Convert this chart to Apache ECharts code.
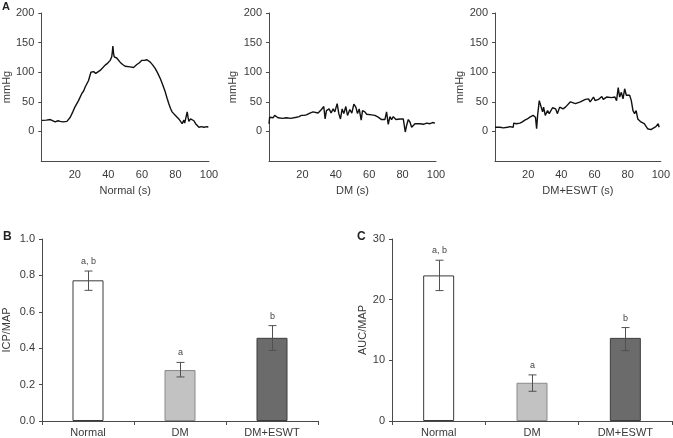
<!DOCTYPE html>
<html><head><meta charset="utf-8">
<script src="https://cdn.jsdelivr.net/npm/echarts@6/dist/echarts.min.js"></script>
<style>html,body{margin:0;padding:0;background:#fff}#c{width:673px;height:438px}</style>
</head><body><div id="c"></div>
<script>
// ---- Panel A traces: [time (s), pressure (mmHg)] ----
const normalTrace = [[0.4,18.6],[3,19],[5.4,20],[5.8,22],[6.5,19],[8.3,16],[10,18],[11.3,17],[13,16],[15.3,17],[17.3,24],[18.8,33],[20.2,42],[21,41],[22.2,52],[24.2,64],[25.2,68],[26.2,75],[27,74],[28.2,86],[29.6,100],[31.2,101],[32.5,98],[33.5,97],[35.1,103],[36.5,107],[38.1,112],[39.5,115],[41.1,120],[42,126],[42.4,135],[42.7,144],[43.1,132],[43.5,126],[45,124],[47,117],[48.5,113],[50,110],[53,109],[54,107],[55,108],[56,109],[57,113],[58.5,116],[60,120],[61.5,120],[63,121],[63.5,118],[65,117],[66.5,112],[68,106],[69.5,98],[71,89],[72.5,78],[74,66],[75,56],[76,47],[77,39],[78,33],[80,27],[81,25],[82,21],[83,18],[84,13],[84.5,16],[85,19],[85.5,14],[86,16],[87,33],[87.5,24],[88,17],[89,21],[90,24],[91,18],[92,13],[93,10],[94,7],[95.5,8],[97,7],[98,4.5],[98.8,8],[99.6,7]];
const dmTrace = [[0,13],[0.4,24],[1.4,25],[2.4,23],[3.4,27],[4.4,25],[5.4,23],[8,22],[10.4,23],[13,22],[16.4,24],[18,25],[19.4,27],[20,30],[21,27],[22.4,28],[24.5,31],[26.4,33],[27.5,30],[29.4,31],[30.5,34],[31.4,37],[32.8,42],[33.6,21],[34.4,35],[36,38],[37.2,31],[38.4,38],[39.4,33],[40.8,47],[41.8,30],[42.8,21],[43.8,38],[44.8,30],[46,42],[47,27],[48.4,37],[49.6,31],[50.8,46],[52,41],[53,30],[54,38],[55.2,19],[56,35],[57.4,33],[58.5,29],[59.4,31],[61.4,28],[62.5,30],[63.4,27],[65.4,24],[66.5,22],[67.4,20],[69.4,20],[70.4,33],[71.4,12],[72.4,25],[73.4,20],[74.4,25],[76,20],[77,22],[78.4,21],[80.4,21],[81,10],[81.6,-1],[82.4,10],[83.4,20],[84.4,16],[85.4,7],[86.5,10],[87.4,13],[90.4,13],[92.5,12],[94.4,14],[95.4,17],[96.4,13],[98,15],[99.4,14]];
const eswtTrace = [[0,7],[3,7],[5,6],[6,4.5],[7.5,7],[9,8],[11,7],[11.3,14],[13,13],[15,14],[16.5,16],[18,19],[19.5,21],[21,24],[23,27],[24.4,24],[25.1,4.5],[25.7,27],[26.7,52],[27.7,55],[28.7,33],[29.3,41],[30.3,27],[31.7,35],[32.7,30],[34.7,40],[36.6,38],[37.6,30],[39,41],[41,38],[42.5,41],[43.6,42],[45.5,50],[48.5,47],[51.5,50],[54.5,54],[55.4,51],[56.4,55],[57.4,50],[59.4,58],[60.4,52],[62.4,54],[64.4,59],[65.3,54],[67.3,58],[70.3,57],[72.3,58],[73.3,52],[74.3,74],[75.2,58],[76.2,66],[77.2,55],[78.2,72],[79.2,61],[81.2,61],[82.2,52],[83.2,35],[84.2,30],[85.1,35],[86.1,21],[88,16],[90,13],[92,4.5],[94,3],[95,6],[97,8],[98,7],[98.4,13],[99,7]];
const traceNames = ['Normal (s)','DM (s)','DM+ESWT (s)'];

// ---- Panels B & C ----
const groups = ['Normal','DM','DM+ESWT'];
const icpMean = [0.773, 0.280, 0.457];
const icpLow  = [0.718, 0.242, 0.388];
const icpHigh = [0.824, 0.322, 0.524];
const aucMean = [24.0, 6.3, 13.7];
const aucLow  = [21.5, 4.9, 11.6];
const aucHigh = [26.5, 7.6, 15.4];
const sigLabels = ['a, b','a','b'];
const yTicksA = [0,50,100,150,200];
const xTicksA = [20,40,60,80,100];

const barFill   = ['#ffffff','#c2c2c2','#6b6b6b'];
const barBorder = ['#3a3a3a','#8a8a8a','#3c3c3c'];

const FONT = 'Liberation Sans, Arial, sans-serif';
const TXT = '#3a3a3a';
const AX = '#4a4a4a';

const chart = echarts.init(document.getElementById('c'));

const gridsA = [
  {left:41, top:13, width:168, height:148},
  {left:269, top:13, width:167, height:148},
  {left:495, top:13, width:168, height:148}
];
const gridsBC = [
  {left:39, top:239, width:279, height:182},
  {left:392, top:239, width:280, height:182}
];
const grid = gridsA.concat(gridsBC);
const nameGapsA = [26, 31, 30];

const xAxis = [], yAxis = [], series = [];
[normalTrace, dmTrace, eswtTrace].forEach((tr, i) => {
  xAxis.push({type:'value', gridIndex:i, min:0, max:100, interval:20,
    name: traceNames[i], nameLocation:'middle', nameGap:24,
    nameTextStyle:{fontFamily:FONT, fontSize:11, color:TXT},
    axisLine:{show:true, onZero:false, lineStyle:{color:AX, width:1}}, axisTick:{show:false}, splitLine:{show:false},
    axisLabel:{fontFamily:FONT, fontSize:11, color:TXT, margin:8, customValues:xTicksA, formatter: v => v === 0 ? '' : String(v)}});
  yAxis.push({type:'value', gridIndex:i, min:-50, max:200, interval:50,
    name:'mmHg', nameLocation:'middle', nameGap:nameGapsA[i], nameRotate:90,
    nameTextStyle:{fontFamily:FONT, fontSize:11, color:TXT},
    axisLine:{show:true, onZero:false, lineStyle:{color:AX, width:1}},
    axisTick:{show:true, length:3, customValues:yTicksA, lineStyle:{color:AX}}, splitLine:{show:false},
    axisLabel:{fontFamily:FONT, fontSize:11, color:TXT, margin:7, customValues:yTicksA, formatter: v => yTicksA.indexOf(v) >= 0 ? String(v) : ''}});
  series.push({type:'line', xAxisIndex:i, yAxisIndex:i, data:tr, showSymbol:false, symbol:'none',
    lineStyle:{color:'#111', width:1.4}, animation:false});
});

function barPanel(idx, mean, low, high, yMax, yInt, yName, fmt, nameGap) {
  xAxis.push({type:'category', gridIndex:idx, data:groups,
    axisLine:{show:true, lineStyle:{color:AX}},
    axisTick:{show:true, length:4, lineStyle:{color:AX}},
    axisLabel:{fontFamily:FONT, fontSize:11, color:TXT, margin:6}});
  yAxis.push({type:'value', gridIndex:idx, min:0, max:yMax, interval:yInt,
    name:yName, nameLocation:'middle', nameGap:nameGap, nameRotate:90,
    nameTextStyle:{fontFamily:FONT, fontSize:11, color:TXT},
    axisLine:{show:true, lineStyle:{color:AX}},
    axisTick:{show:true, length:3, lineStyle:{color:AX}}, splitLine:{show:false},
    axisLabel:{fontFamily:FONT, fontSize:11, color:TXT, margin:7, formatter:fmt}});
  series.push({type:'bar', xAxisIndex:idx, yAxisIndex:idx, barWidth:31, animation:false,
    data: mean.map((v,i) => ({value:v, itemStyle:{color:barFill[i], borderColor:barBorder[i], borderWidth:1}}))});
  series.push({type:'custom', xAxisIndex:idx, yAxisIndex:idx, animation:false, z:5,
    data: groups.map((g,i) => [i, low[i], high[i]]),
    renderItem: function(params, api) {
      const lo = api.coord([api.value(0), api.value(1)]);
      const hi = api.coord([api.value(0), api.value(2)]);
      const x = Math.round(lo[0]) + 0.5, h = 4;
      const st = {stroke:'#505050', lineWidth:1};
      return {type:'group', children:[
        {type:'line', shape:{x1:x, y1:lo[1], x2:x, y2:hi[1]}, style:st},
        {type:'line', shape:{x1:x-h, y1:hi[1], x2:x+h, y2:hi[1]}, style:st},
        {type:'line', shape:{x1:x-h, y1:lo[1], x2:x+h, y2:lo[1]}, style:st},
        {type:'text', style:{text:sigLabels[params.dataIndex], x:x, y:hi[1]-5, textAlign:'center', textVerticalAlign:'bottom',
          font:'9px ' + FONT, fill:'#444'}}
      ]};
    }});
}
barPanel(3, icpMean, icpLow, icpHigh, 1.0, 0.2, 'ICP/MAP', v => v.toFixed(1), 30);
barPanel(4, aucMean, aucLow, aucHigh, 30, 10, 'AUC/MAP', v => String(v), 24);

chart.setOption({
  animation:false,
  grid, xAxis, yAxis, series,
  graphic:[
    {type:'text', left:2, top:1, style:{text:'A', font:'bold 11px ' + FONT, fill:'#222'}},
    {type:'text', left:3, top:231, style:{text:'B', font:'bold 12px ' + FONT, fill:'#222'}},
    {type:'text', left:357, top:231, style:{text:'C', font:'bold 12px ' + FONT, fill:'#222'}}
  ]
});
</script></body></html>
